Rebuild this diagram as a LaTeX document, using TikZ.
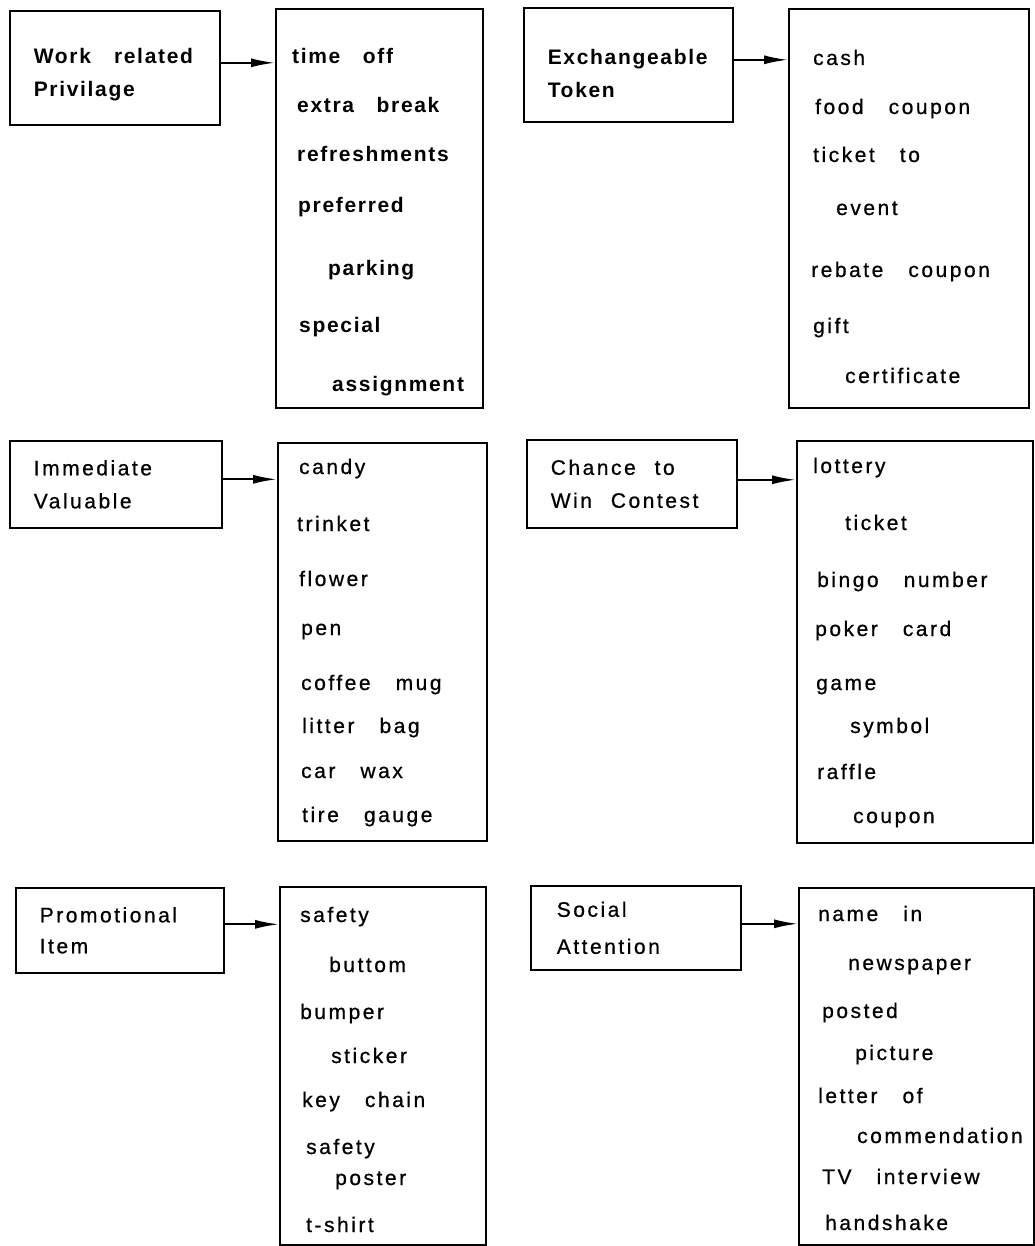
\documentclass[tikz,border=0pt]{standalone}
\usepackage{fontspec}
\setmainfont{Liberation Sans}
\newfontfamily\lt[LetterSpace=12,WordSpace=3,FakeBold=0.7]{Liberation Sans}
\newfontfamily\ltb[LetterSpace=8,WordSpace=3]{Liberation Sans Bold}
\usetikzlibrary{arrows.meta}
\begin{document}
\begin{tikzpicture}[x=1pt,y=-1pt,
  catbox/.style={draw, line width=1.6pt, anchor=north west, inner xsep=24pt, inner ysep=0pt,
     align=left, font=\lt\fontsize{21}{33}\selectfont},
  listbox/.style={draw, line width=1.6pt, anchor=north west, inner sep=0pt},
  item/.style={anchor=base west, inner sep=0pt, font=\lt\fontsize{21}{25}\selectfont},
  itemb/.style={anchor=base west, inner sep=0pt, font=\ltb\fontsize{21}{25}\selectfont},
  conn/.style={line width=2pt, -{Latex[length=24pt,width=9pt]}}]
\useasboundingbox (0,0) rectangle (1034,1246);

% ---------- row 1 ----------
\node[catbox, minimum width=210pt, minimum height=114pt, text width=162pt, text depth=23pt] (c1) at (9,10)
  {\ltb\fontsize{21}{33}\selectfont\spaceskip=1.1em Work related\\Privilage};
\node[listbox, minimum width=207pt, minimum height=399pt] (l1) at (275,8) {};
\draw[conn] ([yshift=5pt]c1.east) -- ([yshift=5pt]c1.east -| l1.west);
\node[itemb] (i11) at (292,64) {time off};
\node[itemb] (i12) at (297,113) {extra break};
\node[itemb] (i13) at (297,162) {refreshments};
\node[itemb] (i14) at (298,213) {preferred};
\node[itemb] (i15) at (328,276) {parking};
\node[itemb] (i16) at (299,332) {special};
\node[itemb] (i17) at (332,391) {assignment};

\node[catbox, minimum width=209pt, minimum height=114pt, text width=161pt, text depth=15pt] (c2) at (523,7)
  {\ltb\fontsize{21}{31}\selectfont Exchangeable\\Token};
\node[listbox, minimum width=240pt, minimum height=399pt] (l2) at (788,8) {};
\draw[conn] ([yshift=5pt]c2.east) -- ([yshift=5pt]c2.east -| l2.west);
\node[item] (i21) at (813,65) {cash};
\node[item] (i22) at (815,114) {food coupon};
\node[item] (i23) at (813,162) {ticket to};
\node[item] (i24) at (836,215) {event};
\node[item] (i25) at (811,277) {rebate coupon};
\node[item] (i26) at (813,333) {gift};
\node[item] (i27) at (845,383) {certificate};

% ---------- row 2 ----------
\node[catbox, minimum width=212pt, minimum height=87pt, text width=164pt] (c3) at (9,440)
  {Immediate\\Valuable};
\node[listbox, minimum width=209pt, minimum height=398pt] (l3) at (277,442) {};
\draw[conn] ([yshift=5pt]c3.east) -- ([yshift=5pt]c3.east -| l3.west);
\node[item] (i31) at (299,474) {candy};
\node[item] (i32) at (297,531) {trinket};
\node[item] (i33) at (299,586) {flower};
\node[item] (i34) at (301,635) {pen};
\node[item] (i35) at (301,690) {coffee mug};
\node[item] (i36) at (302,733) {litter bag};
\node[item] (i37) at (301,778) {car wax};
\node[item] (i38) at (302,822) {tire gauge};

\node[catbox, minimum width=210pt, minimum height=88pt, text width=162pt] (c4) at (526,439)
  {\spaceskip=0.9em Chance to\\Win Contest};
\node[listbox, minimum width=236pt, minimum height=402pt] (l4) at (796,440) {};
\draw[conn] ([yshift=4pt]c4.east) -- ([yshift=4pt]c4.east -| l4.west);
\node[item] (i41) at (813,473) {lottery};
\node[item] (i42) at (845,530) {ticket};
\node[item] (i43) at (817,587) {bingo number};
\node[item] (i44) at (815,636) {poker card};
\node[item] (i45) at (816,690) {game};
\node[item] (i46) at (850,733) {symbol};
\node[item] (i47) at (817,779) {raffle};
\node[item] (i48) at (853,823) {coupon};

% ---------- row 3 ----------
\node[catbox, minimum width=208pt, minimum height=85pt, text width=160pt, font=\lt\fontsize{21}{31}\selectfont] (c5) at (15,887)
  {Promotional\\Item};
\node[listbox, minimum width=206pt, minimum height=358pt] (l5) at (279,886) {};
\draw[conn] ([yshift=6pt]c5.east) -- ([yshift=6pt]c5.east -| l5.west);
\node[item] (i51) at (300,922) {safety};
\node[item] (i52) at (329,972) {buttom};
\node[item] (i53) at (300,1019) {bumper};
\node[item] (i54) at (331,1063) {sticker};
\node[item] (i55) at (302,1107) {key chain};
\node[item] (i56) at (306,1154) {safety};
\node[item] (i57) at (335,1185) {poster};
\node[item] (i58) at (306,1232) {t-shirt};

\node[catbox, minimum width=209pt, minimum height=84pt, text width=158pt, inner xsep=26pt, font=\lt\fontsize{21}{37}\selectfont] (c6) at (530,885)
  {Social\\Attention};
\node[listbox, minimum width=235pt, minimum height=357pt] (l6) at (798,887) {};
\draw[conn] ([yshift=4pt]c6.east) -- ([yshift=4pt]c6.east -| l6.west);
\node[item] (i61) at (818,921) {name in};
\node[item] (i62) at (848,970) {newspaper};
\node[item] (i63) at (822,1018) {posted};
\node[item] (i64) at (855,1060) {picture};
\node[item] (i65) at (818,1103) {letter of};
\node[item] (i66) at (857,1143) {commendation};
\node[item] (i67) at (822,1184) {TV interview};
\node[item] (i68) at (825,1230) {handshake};
\end{tikzpicture}
\end{document}
